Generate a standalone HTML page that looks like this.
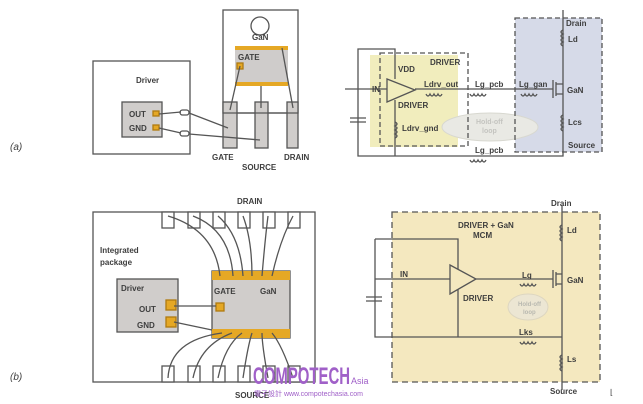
<!DOCTYPE html>
<html><head><meta charset="utf-8"><style>
html,body{margin:0;padding:0;background:#fff;}
svg{display:block;}
text{font-family:"Liberation Sans",sans-serif;font-weight:bold;font-size:8px;fill:#3e3e3e;}
</style></head><body>
<svg width="643" height="404" viewBox="0 0 643 404" xmlns="http://www.w3.org/2000/svg">
<rect width="643" height="404" fill="#fff"/>
<g stroke="#555" stroke-width="1.3" fill="none">
<!-- (a) left -->
<rect x="93" y="61" width="97" height="93" fill="#fff"/>
<rect x="122" y="102" width="40" height="35" fill="#d0cdcb"/>
<rect x="223" y="10" width="75" height="103" fill="#fff"/>
<circle cx="260" cy="26" r="9"/>
<rect x="235" y="47" width="53" height="38" fill="#cfcccb" stroke="none"/>
<rect x="235" y="46" width="53" height="4" fill="#e5a825" stroke="none"/>
<rect x="235" y="82" width="53" height="4" fill="#e5a825" stroke="none"/>
<rect x="237" y="63" width="6" height="6" fill="#e5a825" stroke="#b07a10"/>
<rect x="223" y="102" width="14" height="46" fill="#d0cdcb"/>
<rect x="255" y="102" width="13" height="46" fill="#d0cdcb"/>
<rect x="287" y="102" width="11" height="46" fill="#d0cdcb"/>
<line x1="223" y1="113" x2="298" y2="113"/>
<line x1="240" y1="66" x2="230" y2="110"/>
<line x1="261" y1="86" x2="261" y2="108"/>
<line x1="282" y1="48" x2="293" y2="108"/>
<rect x="153" y="111" width="6" height="5" fill="#e5a825" stroke="#b07a10"/>
<rect x="153" y="125" width="6" height="5" fill="#e5a825" stroke="#b07a10"/>
<rect x="180" y="110" width="9" height="5" rx="2.5" fill="#fff"/>
<rect x="180" y="131" width="9" height="5" rx="2.5" fill="#fff"/>
<path d="M159 114 L181 112 M189 113 L228 128 M159 128 L181 133 M189 134 L260 140"/>
</g>
<text x="136" y="83">Driver</text>
<text x="129" y="117">OUT</text>
<text x="129" y="131">GND</text>
<text x="252" y="40">GaN</text>
<text x="238" y="60">GATE</text>
<text x="212" y="160">GATE</text>
<text x="242" y="170">SOURCE</text>
<text x="284" y="160">DRAIN</text>
<text x="10" y="150" style="font-style:italic;font-weight:normal;font-size:10px">(a)</text>
<text x="10" y="380" style="font-style:italic;font-weight:normal;font-size:10px">(b)</text>

<!-- (a) right -->
<rect x="370" y="55" width="88" height="92" fill="#f1edbd"/>
<rect x="515" y="18" width="87" height="134" fill="#d6dae8"/>
<ellipse cx="490" cy="127" rx="48" ry="14" fill="#e9e9e4" stroke="#d8d8d0"/>
<g stroke="#555" stroke-width="1.3" fill="none">
<rect x="380" y="53" width="88" height="93" stroke-dasharray="5,3"/>
<rect x="515" y="18" width="87" height="134" stroke-dasharray="5,3"/>
<path d="M395 79 L395 49 L358 49 L358 156 L563 156 L563 10"/>
<path d="M350 118 H366 M350 122 H366"/>
<path d="M345 89 H387 M415 89 H553 M553 80 V98 M556 82 V96 M556 84 H563 M556 94 H563"/>
<path d="M395 100 V156"/>
<polygon points="387,79 387,102 415,90" fill="#f1edbd"/>
<path d="M426 94 q2 4 4 0 q2 4 4 0 q2 4 4 0 q2 4 4 0"/>
<path d="M470 94 q2 4 4 0 q2 4 4 0 q2 4 4 0 q2 4 4 0"/>
<path d="M521 94 q2 4 4 0 q2 4 4 0 q2 4 4 0 q2 4 4 0"/>
<path d="M470 160 q2 4 4 0 q2 4 4 0 q2 4 4 0 q2 4 4 0"/>
<path d="M563 30 q-4 2 0 4 q-4 2 0 4 q-4 2 0 4 q-4 2 0 4"/>
<path d="M563 115 q-4 2 0 4 q-4 2 0 4 q-4 2 0 4 q-4 2 0 4"/>
<path d="M395 122 q4 2 0 4 q4 2 0 4 q4 2 0 4 q4 2 0 4"/>
</g>
<text x="566" y="26">Drain</text>
<text x="568" y="42">Ld</text>
<text x="430" y="65">DRIVER</text>
<text x="398" y="72">VDD</text>
<text x="372" y="92">IN</text>
<text x="424" y="87">Ldrv_out</text>
<text x="475" y="87">Lg_pcb</text>
<text x="519" y="87">Lg_gan</text>
<text x="567" y="93">GaN</text>
<text x="398" y="108">DRIVER</text>
<text x="402" y="131">Ldrv_gnd</text>
<text x="568" y="125">Lcs</text>
<text x="568" y="148">Source</text>
<text x="475" y="153">Lg_pcb</text>
<text x="476" y="124" style="fill:#c4c4c0;font-size:7px">Hold-off</text>
<text x="482" y="133" style="fill:#c4c4c0;font-size:7px">loop</text>

<!-- (b) left -->
<g stroke="#555" stroke-width="1.3" fill="none">
<rect x="93" y="212" width="222" height="170" fill="#fff"/>
<g fill="#fff">
<rect x="162" y="212" width="12" height="16"/><rect x="188" y="212" width="12" height="16"/><rect x="213" y="212" width="12" height="16"/><rect x="238" y="212" width="12" height="16"/><rect x="263" y="212" width="12" height="16"/><rect x="288" y="212" width="12" height="16"/>
<rect x="162" y="366" width="12" height="16"/><rect x="188" y="366" width="12" height="16"/><rect x="213" y="366" width="12" height="16"/><rect x="238" y="366" width="12" height="16"/><rect x="263" y="366" width="12" height="16"/><rect x="288" y="366" width="12" height="16"/>
</g>
<rect x="212" y="271" width="78" height="67" fill="#d0cdcb"/>
<rect x="212" y="271" width="78" height="9" fill="#e5a825" stroke="none"/>
<rect x="212" y="329" width="78" height="9" fill="#e5a825" stroke="none"/>
<rect x="117" y="279" width="61" height="53" fill="#d0cdcb"/>
<rect x="166" y="300" width="10" height="10" fill="#e5a825" stroke="#b07a10"/>
<rect x="166" y="317" width="10" height="10" fill="#e5a825" stroke="#b07a10"/>
<rect x="216" y="303" width="8" height="8" fill="#e5a825" stroke="#b07a10"/>
<path d="M174 306 L216 306 M174 322 L212 330"/>
<path d="M168 216 Q215 230 220 276 M193 216 Q230 230 233 276 M218 216 Q240 235 243 276 M243 216 Q252 240 252 276 M268 216 Q265 240 262 276 M293 216 Q280 240 272 276"/>
<path d="M168 378 Q170 340 222 333 M193 378 Q200 345 232 333 M218 378 Q225 345 242 333 M243 378 Q248 345 252 333 M268 378 Q262 345 262 333 M293 378 Q282 345 272 333"/>
</g>
<text x="237" y="204">DRAIN</text>
<text x="100" y="253">Integrated</text>
<text x="100" y="265">package</text>
<text x="121" y="291">Driver</text>
<text x="139" y="312">OUT</text>
<text x="137" y="328">GND</text>
<text x="214" y="294">GATE</text>
<text x="260" y="294">GaN</text>
<text x="235" y="398">SOURCE</text>

<!-- (b) right -->
<rect x="392" y="212" width="208" height="170" fill="#f4e8bf"/>
<ellipse cx="528" cy="307" rx="20" ry="13" fill="#ece6d3" stroke="#ddd6c0"/>
<g stroke="#555" stroke-width="1.3" fill="none">
<rect x="392" y="212" width="208" height="170" stroke-dasharray="6,4"/>
<path d="M375 239 H458 V337 M375 239 V337 H562 M562 205 V390"/>
<path d="M366 297 H382 M366 301 H382"/>
<path d="M375 279 H450 M476 279 H553 M553 270 V288 M556 272 V286 M556 274 H562 M556 284 H562"/>
<polygon points="450,265 450,294 476,279" fill="#f4e8bf"/>
<path d="M520 284 q2 4 4 0 q2 4 4 0 q2 4 4 0 q2 4 4 0"/>
<path d="M520 342 q2 4 4 0 q2 4 4 0 q2 4 4 0 q2 4 4 0"/>
<path d="M562 225 q-4 2 0 4 q-4 2 0 4 q-4 2 0 4 q-4 2 0 4"/>
<path d="M562 355 q-4 2 0 4 q-4 2 0 4 q-4 2 0 4 q-4 2 0 4"/>
</g>
<text x="551" y="206">Drain</text>
<text x="567" y="233">Ld</text>
<text x="458" y="228">DRIVER + GaN</text>
<text x="473" y="238">MCM</text>
<text x="400" y="277">IN</text>
<text x="463" y="301">DRIVER</text>
<text x="522" y="278">Lg</text>
<text x="567" y="283">GaN</text>
<text x="518" y="306" style="fill:#b8b8b0;font-size:6px">Hold-off</text>
<text x="523" y="314" style="fill:#b8b8b0;font-size:6px">loop</text>
<text x="519" y="335">Lks</text>
<text x="567" y="362">Ls</text>
<text x="550" y="394">Source</text>
<text x="610" y="395" style="font-weight:normal">⌊</text>

<!-- watermark -->
<text x="253" y="384" style="fill:#a060c8;font-size:24px;font-weight:bold;font-family:'Liberation Sans Narrow','Liberation Sans',sans-serif" textLength="97" lengthAdjust="spacingAndGlyphs">COMPOTECH</text>
<text x="351" y="384" style="fill:#a060c8;font-size:9px;font-weight:normal">Asia</text>
<text x="254" y="396" style="fill:#a060c8;font-size:7px;font-weight:normal;font-family:'Liberation Sans','Noto Sans CJK TC',sans-serif">電子設計 www.compotechasia.com</text>
</svg>
</body></html>
